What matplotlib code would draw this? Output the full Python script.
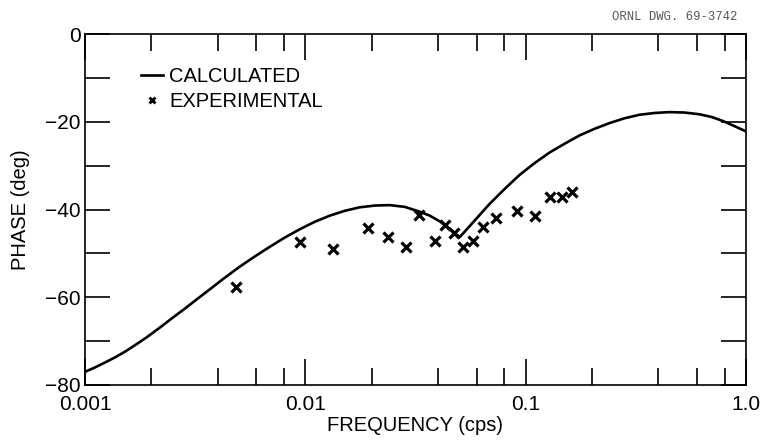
import matplotlib
matplotlib.use('Agg')
import matplotlib.pyplot as plt
from matplotlib.ticker import LogLocator, FixedLocator, FixedFormatter, NullFormatter, MultipleLocator
from matplotlib.lines import Line2D

# calculated phase response
calc_freq = [0.001, 0.00111, 0.00123, 0.00137, 0.00152, 0.00169, 0.00191, 0.00219,
             0.00248, 0.00284, 0.00325, 0.00373, 0.00427, 0.00505, 0.00590, 0.00690,
             0.00807, 0.00944, 0.01104, 0.01292, 0.01510, 0.01767, 0.02067, 0.02417,
             0.02827, 0.03306, 0.03670, 0.04074, 0.04522, 0.05020,
             0.05872, 0.06867, 0.08031, 0.09393, 0.1099, 0.1285, 0.1503, 0.1758,
             0.2056, 0.2404, 0.2812, 0.3289, 0.3846, 0.4499, 0.5261, 0.6153,
             0.6974, 0.7823, 0.8777, 1.0]
calc_phase = [-77.0, -76.0, -74.9, -73.7, -72.4, -70.9, -69.1, -66.9,
              -64.8, -62.6, -60.3, -58.0, -55.7, -53.0, -50.7, -48.5,
              -46.4, -44.5, -42.8, -41.4, -40.3, -39.5, -39.1, -39.0,
              -39.4, -40.5, -41.4, -42.7, -44.4, -46.3,
              -42.5, -38.7, -35.3, -32.1, -29.4, -27.0, -25.0, -23.1,
              -21.6, -20.3, -19.2, -18.4, -18.0, -17.8, -17.9, -18.3,
              -18.9, -19.8, -20.9, -22.2]

# measured points
exp_freq = [0.00484, 0.0095, 0.01337, 0.01935, 0.0238, 0.0285, 0.0328, 0.0387,
            0.0429, 0.0473, 0.052, 0.0577, 0.064, 0.0736, 0.0914, 0.1107,
            0.1285, 0.1467, 0.162]
exp_phase = [-57.6, -47.5, -49.1, -44.2, -46.3, -48.6, -41.3, -47.1,
             -43.5, -45.3, -48.5, -47.1, -44.1, -41.9, -40.3, -41.4,
             -37.1, -37.1, -35.9]

x_ticks = [0.001, 0.01, 0.1, 1.0]
x_labels = ['0.001', '0.01', '0.1', '1.0']
y_ticks = [0, -20, -40, -60, -80]
y_labels = ['0', '\u221220', '\u221240', '\u221260', '\u221280']

plt.rcParams['font.family'] = ['Liberation Sans', 'DejaVu Sans']

fig = plt.figure(figsize=(7.71, 4.44), dpi=100)
ax = fig.add_axes([0.1102, 0.1329, 0.8574, 0.7905])

ax.plot(calc_freq, calc_phase, 'k-', linewidth=1.9)
ax.plot(exp_freq, exp_phase, 'kx', markersize=6.5, markeredgewidth=2.3, linestyle='none')

ax.set_xscale('log')
ax.set_xlim(0.001, 1.0)
ax.set_ylim(-80, 0)

ax.xaxis.set_major_locator(FixedLocator(x_ticks))
ax.xaxis.set_major_formatter(FixedFormatter(x_labels))
ax.xaxis.set_minor_locator(LogLocator(base=10, subs=(2, 4, 6, 8)))
ax.xaxis.set_minor_formatter(NullFormatter())
ax.yaxis.set_major_locator(FixedLocator(y_ticks))
ax.yaxis.set_major_formatter(FixedFormatter(y_labels))
ax.yaxis.set_minor_locator(MultipleLocator(10))

ax.tick_params(which='both', direction='in', top=True, right=True, width=1.2)
ax.tick_params(axis='x', which='major', length=19, pad=7, labelsize=15)
ax.tick_params(axis='x', which='minor', length=12)
ax.tick_params(axis='y', which='major', length=18, pad=3, labelsize=15)
ax.tick_params(axis='y', which='minor', length=18)

for s in ax.spines.values():
    s.set_linewidth(1.2)

ax.set_xlabel('FREQUENCY (cps)', fontsize=14.5, labelpad=2)
ax.set_ylabel('PHASE (deg)', fontsize=14.5)
ax.yaxis.set_label_coords(-0.083, 0.5)

handles = [Line2D([], [], color='k', linewidth=1.9),
           Line2D([], [], color='k', marker='x', linestyle='none', markersize=5, markeredgewidth=2)]
ax.legend(handles, ['CALCULATED', 'EXPERIMENTAL'], loc='upper left',
          bbox_to_anchor=(0.073, 0.93), frameon=False, fontsize=14.5,
          handlelength=1.1, handletextpad=0.3, labelspacing=0.3, borderaxespad=0)

fig.text(0.957, 0.962, 'ORNL DWG. 69-3742', family='Liberation Mono',
         fontsize=8.8, color='#555555', ha='right', va='center')

fig.savefig('out.png', dpi=100)
plt.close(fig)
